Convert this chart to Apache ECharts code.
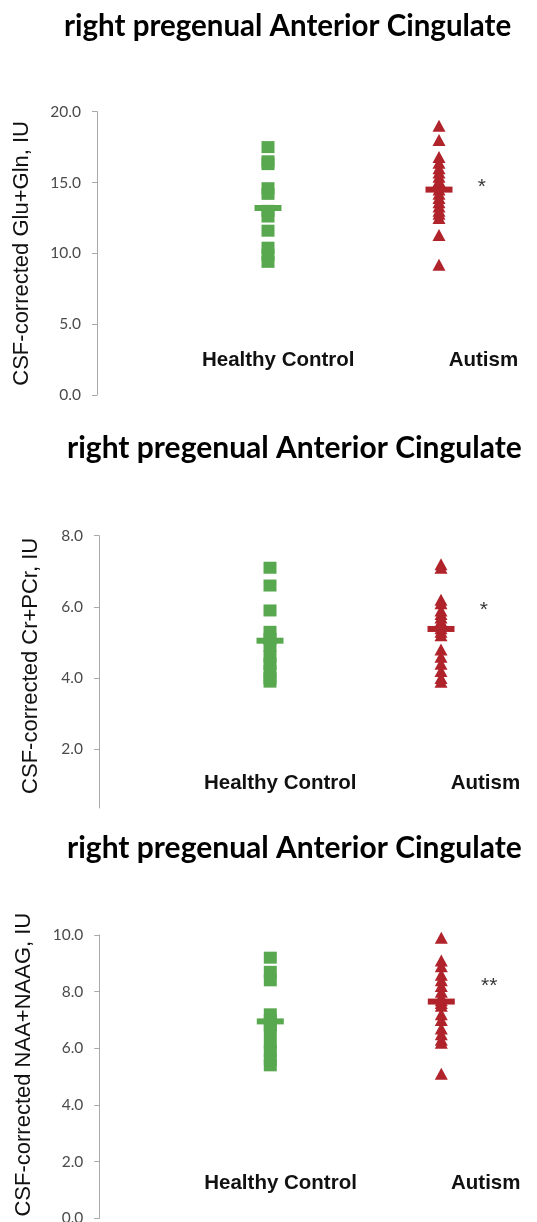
<!DOCTYPE html>
<html>
<head>
<meta charset="utf-8">
<script src="https://cdn.jsdelivr.net/npm/echarts@6/dist/echarts.min.js"></script>
<style>
html,body{margin:0;padding:0;background:#fff;}
#c{width:537px;height:1222px;}
</style>
</head>
<body>
<div id="c"></div>
<script>
// ---------- data ----------
const TITLE = 'right pregenual Anterior Cingulate';
const GROUPS = ['Healthy Control', 'Autism'];
const GROUP_X = [1, 2];
const Y_NAMES = ['CSF-corrected Glu+Gln, IU', 'CSF-corrected Cr+PCr, IU', 'CSF-corrected NAA+NAAG, IU'];

const Y_TICKS_GLX = [0, 5, 10, 15, 20];
const Y_TICKS_CR = [2, 4, 6, 8];
const Y_TICKS_NAA = [0, 2, 4, 6, 8, 10];

const HC_GLX = [17.5, 16.5, 16.3, 14.6, 14.2, 13.0, 12.6, 11.6, 10.4, 9.9, 9.4];
const AUT_GLX = [19.0, 18.0, 16.8, 16.4, 16.0, 15.7, 15.4, 15.1, 14.8, 14.5, 14.2, 13.9, 13.6, 13.3, 13.0, 12.8, 12.5, 11.3, 9.2];
const MEAN_GLX = [13.2, 14.5];

const HC_CR = [7.1, 6.6, 5.9, 5.3, 5.1, 4.9, 4.6, 4.4, 4.2, 4.0, 3.9];
const AUT_CR = [7.2, 7.1, 6.2, 6.1, 5.9, 5.8, 5.7, 5.6, 5.5, 5.4, 5.3, 5.2, 4.8, 4.6, 4.4, 4.2, 4.0, 3.9];
const MEAN_CR = [5.05, 5.38];

const HC_NAA = [9.2, 8.7, 8.4, 7.2, 7.0, 6.8, 6.6, 6.2, 5.9, 5.6, 5.4];
const AUT_NAA = [9.9, 9.1, 8.9, 8.6, 8.4, 8.2, 8.0, 7.8, 7.7, 7.6, 7.5, 7.2, 7.0, 6.7, 6.5, 6.3, 6.2, 5.1];
const MEAN_NAA = [6.95, 7.65];

const SIG = ['*', '*', '**'];
const SIG_Y = [14.7, 5.9, 8.2];

// ---------- layout ----------
const PANELS = [
  {hc: HC_GLX, aut: AUT_GLX, mean: MEAN_GLX, ticks: Y_TICKS_GLX, min: 0, max: 20,
   grid: {left: 97, top: 111.7, width: 427.5, height: 283.3}, titleTop: 11, titleLeft: 64, titleSize: 29.5,
   nameGap: 64, namePad: 0, labMargin: -45, sigX: 2.25},
  {hc: HC_CR, aut: AUT_CR, mean: MEAN_CR, ticks: Y_TICKS_CR, min: 0.35, max: 8,
   grid: {left: 99, top: 535.7, width: 427.5, height: 272.3}, titleTop: 433, titleLeft: 67, titleSize: 30,
   nameGap: 57, namePad: 12, labMargin: -35, sigX: 2.25},
  {hc: HC_NAA, aut: AUT_NAA, mean: MEAN_NAA, ticks: Y_TICKS_NAA, min: 0, max: 10,
   grid: {left: 99.3, top: 935, width: 427.5, height: 283.3}, titleTop: 833, titleLeft: 67, titleSize: 30,
   nameGap: 64, namePad: 24, labMargin: -45, sigX: 2.28}
];

const GREEN = '#58a84f';
const RED = '#b0232b';

const option = {
  animation: false,
  backgroundColor: '#fff',
  title: [], grid: [], xAxis: [], yAxis: [], series: []
};

PANELS.forEach((p, i) => {
  option.title.push({
    text: TITLE, left: p.titleLeft, top: p.titleTop, padding: 0,
    textStyle: {fontFamily: 'Lato', fontWeight: 'bold', fontSize: p.titleSize, color: '#000'}
  });
  option.grid.push(Object.assign({outerBoundsMode: 'none', containLabel: false}, p.grid));
  option.xAxis.push({
    gridIndex: i, type: 'value', min: 0, max: 2.5,
    axisLine: {show: false}, axisTick: {show: false}, splitLine: {show: false},
    axisLabel: {
      customValues: [1.06, 2.26],
      formatter: v => (v < 1.5 ? GROUPS[0] : GROUPS[1]),
      margin: p.labMargin,
      fontFamily: 'Liberation Sans', fontWeight: 'bold', fontSize: 20.5, color: '#111'
    }
  });
  option.yAxis.push({
    gridIndex: i, type: 'value', min: p.min, max: p.max,
    name: Y_NAMES[i], nameLocation: 'middle', nameGap: p.nameGap, nameRotate: 90,
    nameTextStyle: {fontFamily: 'Liberation Sans', fontSize: 22, color: '#111', padding: [0, 0, 0, p.namePad]},
    axisLine: {show: true, lineStyle: {color: '#a9a9a9', width: 1}},
    axisTick: {show: true, inside: false, length: 5, customValues: p.ticks, lineStyle: {color: '#a9a9a9'}},
    axisLabel: {customValues: p.ticks, formatter: v => v.toFixed(1), margin: 16,
      fontFamily: 'Lato', fontSize: 15.5, color: '#4a4a4a'},
    splitLine: {show: false}
  });
  option.series.push({
    type: 'scatter', xAxisIndex: i, yAxisIndex: i, name: GROUPS[0],
    symbol: 'rect', symbolSize: [13, 12],
    itemStyle: {color: GREEN, opacity: 1},
    data: p.hc.map(v => [GROUP_X[0], v]), z: 2
  });
  option.series.push({
    type: 'scatter', xAxisIndex: i, yAxisIndex: i, name: GROUPS[1],
    symbol: 'triangle', symbolSize: [13, 12],
    itemStyle: {color: RED, opacity: 1},
    data: p.aut.map(v => [GROUP_X[1], v]), z: 2
  });
  option.series.push({
    type: 'scatter', xAxisIndex: i, yAxisIndex: i, name: 'mean',
    symbol: 'rect', symbolSize: [27, 6],
    itemStyle: {color: d => (d.dataIndex === 0 ? GREEN : RED), opacity: 1},
    data: p.mean.map((v, k) => [GROUP_X[k], v]), z: 3
  });
  option.series.push({
    type: 'scatter', xAxisIndex: i, yAxisIndex: i, name: 'sig',
    symbolSize: 0, silent: true,
    label: {show: true, position: 'inside', formatter: () => SIG[i],
      fontFamily: 'Liberation Sans', fontSize: 21, color: '#000'},
    data: [[p.sigX, SIG_Y[i]]], z: 4
  });
});

const chart = echarts.init(document.getElementById('c'), null, {renderer: 'canvas'});
chart.setOption(option);
</script>
</body>
</html>
